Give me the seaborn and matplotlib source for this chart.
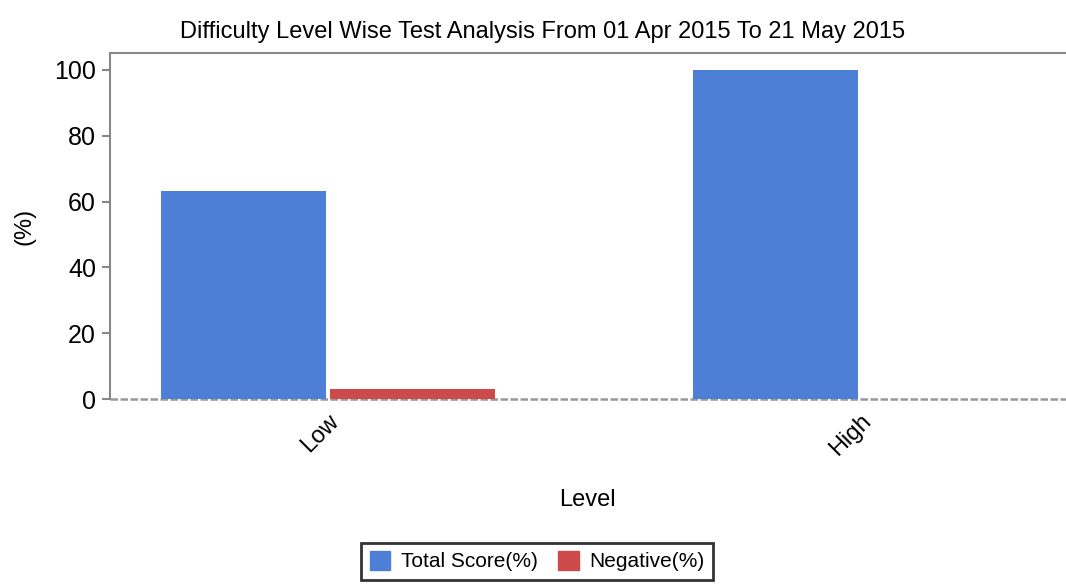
import pandas as pd
import matplotlib.pyplot as plt
import seaborn as sns

# chart data
levels = ['Low', 'High']
total_score = [63.2, 100.0]
negative = [3.0, 0.0]
series_names = ['Total Score(%)', 'Negative(%)']
colors = ['#4e7fd6', '#cc4a4a']

df = pd.DataFrame({
    'Level': levels * 2,
    'Value': total_score + negative,
    'Series': [series_names[0]] * len(levels) + [series_names[1]] * len(levels),
})

sns.set_style('white')
plt.rcParams['font.family'] = ['Liberation Sans', 'DejaVu Sans']
plt.rcParams['text.color'] = 'black'
plt.rcParams['axes.labelcolor'] = 'black'
plt.rcParams['xtick.color'] = 'black'
plt.rcParams['ytick.color'] = 'black'

fig = plt.figure(figsize=(10.66, 5.87), dpi=100)
ax = fig.add_axes([0.103, 0.32, 0.897, 0.59])

sns.barplot(data=df, x='Level', y='Value', hue='Series', palette=colors,
            width=0.635, gap=0.024, saturation=1, linewidth=0,
            ax=ax, legend=False, zorder=2)

ax.set_xlim(-0.41, 1.387)
ax.set_ylim(0, 105.2)
ax.set_yticks([0, 20, 40, 60, 80, 100])
ax.tick_params(axis='y', labelsize=18, length=6, width=1.5, color='#888888', left=True, pad=4)
ax.tick_params(axis='x', labelsize=17, length=0, pad=8)
plt.setp(ax.get_xticklabels(), rotation=45, ha='right', rotation_mode='anchor')

for side in ['right', 'bottom']:
    ax.spines[side].set_visible(False)
for side in ['left', 'top']:
    ax.spines[side].set_color('#888888')
    ax.spines[side].set_linewidth(1.5)
ax.axhline(0, color='#999999', linewidth=1.8, linestyle=(0, (3, 1)), zorder=1, clip_on=False)

fig.suptitle('Difficulty Level Wise Test Analysis From 01 Apr 2015 To 21 May 2015',
             fontsize=17, x=0.509, y=0.945, va='center')
ax.set_xlabel('Level', fontsize=17, labelpad=21)
ax.set_ylabel('(%)', fontsize=17, labelpad=13)

handles = [plt.Rectangle((0, 0), 1, 1, color=c) for c in colors]
leg = fig.legend(handles, series_names, loc='center', bbox_to_anchor=(0.504, 0.044),
                 ncol=2, fontsize=15, frameon=True, fancybox=False,
                 handlelength=1.0, handleheight=1.0, columnspacing=1.0, handletextpad=0.5,
                 borderpad=0.4)
leg.get_frame().set_edgecolor('black')
leg.get_frame().set_linewidth(2)

fig.savefig('out.png', dpi=100)
